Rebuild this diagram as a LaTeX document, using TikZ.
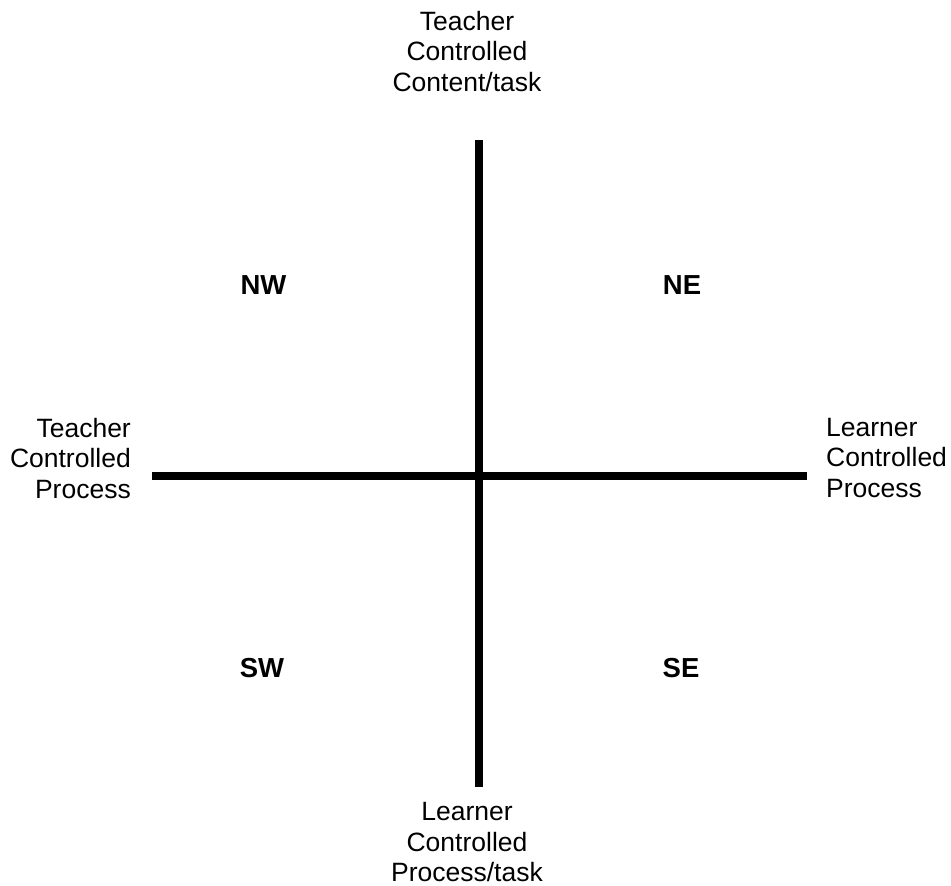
\documentclass[tikz,border=0pt]{standalone}
\usepackage{fontspec}
\setmainfont{Liberation Sans}
\usepackage{xcolor}
\usepackage{tikz}
\usetikzlibrary{positioning}
\definecolor{qink}{HTML}{000000}

\begin{document}
\begin{tikzpicture}[x=1pt,y=-1pt,
  every node/.style={font=\fontsize{26.5}{30.5}\selectfont,text=qink,inner sep=0pt},
  axis/.style={draw=qink,line width=8pt},
  pole/.style={align=center},
  quad/.style={font=\fontsize{27.5}{30}\selectfont\bfseries}]
  \useasboundingbox (0,0) rectangle (951,886);

  \coordinate (top) at (479,140);
  \coordinate (bot) at (479,787);
  \coordinate (lft) at (152,475.5);
  \coordinate (rgt) at (807,475.5);
  \draw[axis] (top) -- (bot);
  \draw[axis] (lft) -- (rgt);

  \node[pole,anchor=north] (tcc) at (467,11) {Teacher\\Controlled\\Content/task};
  \node[pole,anchor=north] (lcp) at (467,802.5) {Learner\\Controlled\\Process/task};
  \node[pole,align=right,anchor=north east] (tcp) at (131,418) {Teacher\\Controlled\\Process};
  \node[pole,align=left,anchor=north west] (lcpr) at (826,418) {Learner\\Controlled\\Process};

  \node[quad] (nw) at (263.5,285) {NW};
  \node[quad] (ne) at (682,285) {NE};
  \node[quad] (sw) at (262,668.5) {SW};
  \node[quad] (se) at (681,668.5) {SE};
\end{tikzpicture}
\end{document}
